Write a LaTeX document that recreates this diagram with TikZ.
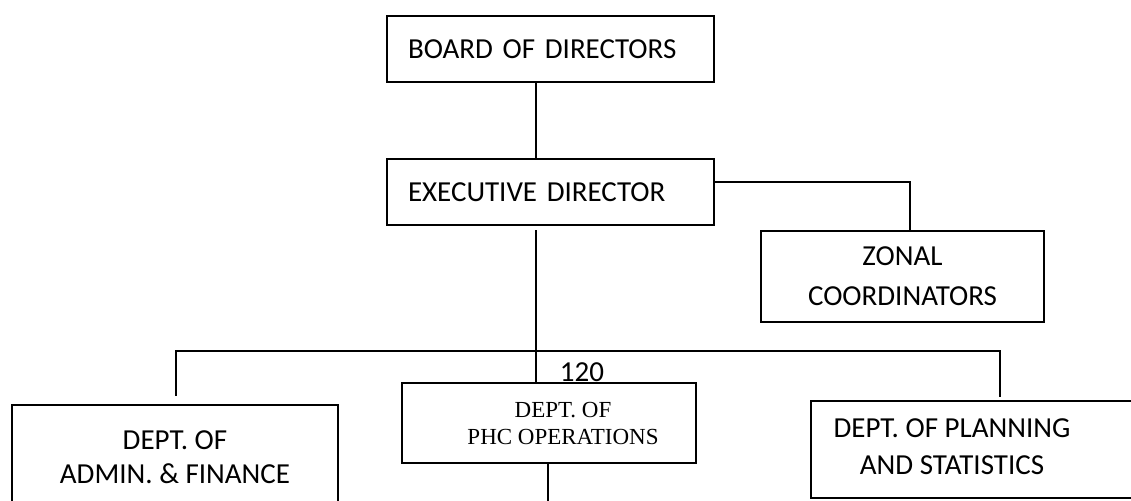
\documentclass[tikz,border=0pt]{standalone}
\usepackage{fontspec}
\setmainfont{Carlito}
\newfontfamily\tms{Liberation Serif}
\begin{document}
\begin{tikzpicture}[x=1pt,y=-1pt,
  box/.style={draw, line width=2.2pt, inner sep=0pt},
  cal/.style={font=\fontsize{29}{37}\selectfont},
  conn/.style={line width=2.2pt}]
\useasboundingbox (0,0) rectangle (1131,500);
\node[box, cal, minimum width=327pt, minimum height=66pt, text width=285pt, align=left] (board) at (550.5,49) {BOARD OF DIRECTORS};
\node[box, cal, minimum width=327pt, minimum height=66pt, text width=285pt, align=left] (exec) at (550.5,192) {EXECUTIVE DIRECTOR};
\node[box, font=\fontsize{29}{40}\selectfont, minimum width=283pt, minimum height=91pt, align=center] (zonal) at (902.5,276.5) {ZONAL\\COORDINATORS};
\node[box, font=\fontsize{29}{34}\selectfont, minimum width=326pt, minimum height=105pt, align=center] (admin) at (175,457.5) {DEPT. OF\\ADMIN. \& FINANCE};
\node[box, minimum width=294pt, minimum height=80pt] (phc) at (549,423) {};
\node[font=\tms\fontsize{23}{27}\selectfont, align=center, inner sep=0pt] (phctext) at (563,423.5) {DEPT. OF\\PHC OPERATIONS};
\node[box, minimum width=339pt, minimum height=97pt] (plan) at (980.5,449.5) {};
\node[font=\fontsize{29}{37}\selectfont, align=center, inner sep=0pt] (plantext) at (952,446.5) {DEPT. OF PLANNING\\AND STATISTICS};
\node[cal, inner sep=0pt] (lbl) at (582,372) {120};
\coordinate (mx) at (536,0);
\coordinate (busL) at (176,351);
\coordinate (busR) at (1000,351);
\coordinate (zc) at (910,182);
\coordinate (phcend) at (548,510);
\draw[conn] (board.south -| mx) -- (exec.north -| mx);
\draw[conn] ([yshift=-4pt]exec.south -| mx) -- (phc.north -| mx);
\draw[conn] ([yshift=8pt]admin.north -| busL) -- (busL) -- (busR) -- ([yshift=3pt]plan.north -| busR);
\draw[conn] ([yshift=10pt]exec.east) -- (zc) -- (zonal.north -| zc);
\draw[conn] (phc.south -| phcend) -- (phcend);
\end{tikzpicture}
\end{document}
